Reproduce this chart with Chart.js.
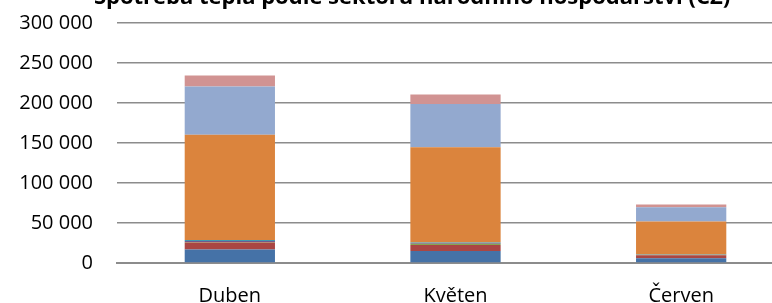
<!DOCTYPE html>
<html lang="cs">
<head>
    <meta charset="UTF-8">
    <title>Spotřeba tepla podle sektorů</title>
    <script src="https://cdn.jsdelivr.net/npm/chart.js"></script>
    <style>
        html, body { margin: 0; padding: 0; overflow: hidden; background: #fff; }
    </style>
</head>
<body>
    <div style="width:794px; height:303px;">
        <canvas id="myChart" width="794" height="303"></canvas>
    </div>

    <script>
        // Months on the x axis
        var months = ['Duben', 'Květen', 'Červen'];

        // Values per sector (GJ), bottom of the stack first
        var prumysl       = [17000, 15000, 5900];
        var energetika    = [8500, 7500, 3800];
        var zemedelstvi   = [900, 1600, 500];
        var doprava       = [1200, 1000, 500];
        var stavebnictvi  = [1000, 500, 300];
        var domacnosti    = [131600, 119200, 40800];
        var obchodSluzby  = [60400, 54100, 18000];
        var ostatni       = [13700, 11600, 3300];

        var yTicks = [0, 50000, 100000, 150000, 200000, 250000, 300000];

        var chartTitle = 'Spotřeba tepla podle sektorů národního hospodářství (CZ)';
        var font = '"Open Sans", sans-serif';

        function ds(label, values, color) {
            return {
                label: label,
                data: values,
                backgroundColor: color,
                borderWidth: 0,
                barPercentage: 0.4,
                categoryPercentage: 1
            };
        }

        var data = {
            labels: months,
            datasets: [
                ds('Průmysl', prumysl, '#4572A7'),
                ds('Energetika', energetika, '#AA4643'),
                ds('Zemědělství', zemedelstvi, '#89A54E'),
                ds('Doprava', doprava, '#71588F'),
                ds('Stavebnictví', stavebnictvi, '#4198AF'),
                ds('Domácnosti', domacnosti, '#DB843D'),
                ds('Obchod a služby', obchodSluzby, '#93A9CF'),
                ds('Ostatní', ostatni, '#D19392')
            ]
        };

        // title sits partly above the canvas, like in the original
        var titlePlugin = {
            id: 'cutTitle',
            afterDraw: function (chart) {
                var c = chart.ctx;
                c.save();
                c.font = 'bold 22px ' + font;
                c.fillStyle = '#000';
                c.textAlign = 'center';
                c.textBaseline = 'alphabetic';
                c.fillText(chartTitle, 412, 4);
                c.restore();
            }
        };

        var options = {
            responsive: false,
            animation: false,
            layout: { padding: { top: 23, left: 0, right: 0, bottom: 0 } },
            plugins: {
                legend: { display: false },
                tooltip: { enabled: false }
            },
            scales: {
                x: {
                    stacked: true,
                    z: 1,
                    afterFit: function (s) { s.height = 40; },
                    grid: { display: false },
                    border: { display: true, color: '#8c8c8c', width: 2 },
                    ticks: { color: '#000', font: { family: font, size: 20 }, padding: 13 }
                },
                y: {
                    stacked: true,
                    min: 0,
                    max: 300000,
                    afterBuildTicks: function (s) {
                        s.ticks = yTicks.map(function (v) { return { value: v }; });
                    },
                    afterFit: function (s) {
                        s.width = 117;
                        // tick padding is only meant for the horizontal gap
                        s.paddingTop = 0;
                        s.paddingBottom = 0;
                    },
                    grid: { color: '#8c8c8c', lineWidth: 1.5, drawTicks: false },
                    border: { display: false },
                    ticks: {
                        color: '#000',
                        padding: 24,
                        font: { family: font, size: 20 },
                        callback: function (v) {
                            return String(v).replace(/\B(?=(\d{3})+(?!\d))/g, ' ');
                        }
                    }
                }
            }
        };

        var ctx = document.getElementById('myChart').getContext('2d');

        var myChart = new Chart(ctx, {
            type: 'bar',
            data: data,
            options: options,
            plugins: [titlePlugin]
        });
    </script>
</body>
</html>
